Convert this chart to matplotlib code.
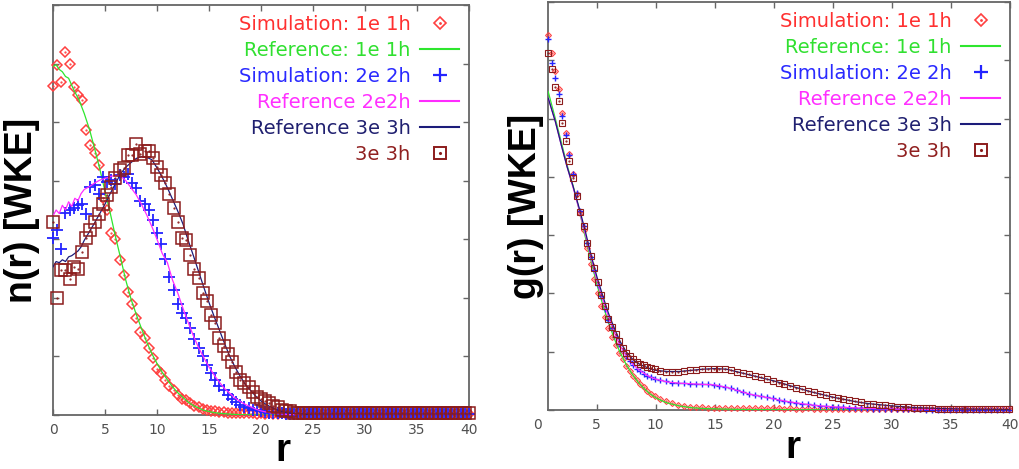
import numpy as np
import matplotlib
matplotlib.use("Agg")
import matplotlib.pyplot as plt
from matplotlib.lines import Line2D


# ---------------- n(r) panel (left) ----------------
r_n = np.round(np.arange(0, 40.01, 0.4), 2)

n_sim_1e = [5.62, 5.98, 5.69, 6.19, 6.0, 5.6, 5.46, 5.38, 4.86, 4.61,
            4.47, 4.27, 3.7, 3.5, 3.1, 3.0, 2.65, 2.39, 2.1, 1.9,
            1.65, 1.42, 1.31, 1.14, 0.97, 0.78, 0.72, 0.6, 0.5, 0.42,
            0.35, 0.28, 0.26, 0.2, 0.16, 0.13, 0.1, 0.08, 0.07, 0.06,
            0.05, 0.05, 0.04, 0.04, 0.03, 0.04, 0.03, 0.03, 0.03, 0.02,
            0.03,
            0.02, 0.03, 0.02, 0.02, 0.03, 0.02, 0.02, 0.02, 0.03, 0.02,
            0.02, 0.02, 0.03, 0.02, 0.02, 0.02, 0.02, 0.03, 0.02, 0.02,
            0.02, 0.02, 0.02, 0.03, 0.02, 0.02, 0.02, 0.02, 0.02, 0.02,
            0.03, 0.02, 0.02, 0.02, 0.02, 0.02, 0.02, 0.03, 0.02, 0.02,
            0.02, 0.02, 0.02, 0.02, 0.02, 0.02, 0.03, 0.02, 0.02, 0.02]

n_sim_2e = [3.02, 3.16, 2.83, 3.45, 3.5, 3.53, 3.59, 3.61, 3.44, 3.9,
            3.92, 3.78, 4.07, 3.98, 4.01, 3.95, 4.1, 4.07, 4.12, 3.96,
            3.87, 3.66, 3.6, 3.5, 3.33, 3.1, 2.92, 2.67, 2.36, 2.13,
            1.9, 1.74, 1.66, 1.49, 1.3, 1.15, 1.0, 0.85, 0.72, 0.6,
            0.5, 0.42, 0.35, 0.28, 0.22, 0.17, 0.14, 0.12, 0.09, 0.08,
            0.07, 0.05, 0.04, 0.04, 0.03, 0.03,
            0.02, 0.02, 0.02, 0.02, 0.02, 0.02, 0.02, 0.02, 0.02, 0.02,
            0.02, 0.02, 0.02, 0.02, 0.02, 0.02, 0.02, 0.02, 0.02, 0.02,
            0.02, 0.02, 0.02, 0.02, 0.02, 0.02, 0.02, 0.02, 0.02, 0.02,
            0.02, 0.02, 0.02, 0.02, 0.02, 0.02, 0.02, 0.02, 0.02, 0.02,
            0.02, 0.02, 0.02, 0.02, 0.02]

n_sim_3e = [3.3, 2.0, 2.47, 2.48, 2.32, 2.53, 2.5, 2.79, 3.02, 3.16,
            3.3, 3.44, 3.6, 3.76, 3.9, 4.05, 4.18, 4.21, 4.44, 4.44,
            4.63, 4.46, 4.5, 4.5, 4.39, 4.24, 4.1, 3.96, 3.78, 3.53,
            3.3, 3.02, 2.99, 2.73, 2.5, 2.34, 2.08, 1.94, 1.71, 1.57,
            1.31, 1.17, 1.05, 0.91, 0.74, 0.6, 0.54, 0.47, 0.4, 0.31,
            0.27, 0.24, 0.2, 0.16, 0.13, 0.09, 0.07, 0.06, 0.04, 0.03,
            0.03,
            0.03, 0.03, 0.03, 0.03, 0.03, 0.03, 0.03, 0.03, 0.03, 0.03,
            0.03, 0.03, 0.03, 0.03, 0.03, 0.03, 0.03, 0.03, 0.03, 0.03,
            0.03, 0.03, 0.03, 0.03, 0.03, 0.03, 0.03, 0.03, 0.03, 0.03,
            0.03, 0.03, 0.03, 0.03, 0.03, 0.03, 0.03, 0.03, 0.03, 0.03]

r_n_ref1 = [0, 0.3, 0.6, 0.9, 1.2, 1.5, 2.0, 2.5, 3.0, 3.5, 4.0, 4.5, 5.0,
            5.5, 6.0, 6.5, 7.0, 7.5, 8.0, 8.5, 9.0, 9.5, 10.0, 10.5, 11.0,
            11.5, 12.0, 12.5, 13.0, 13.5, 14.0, 14.5, 15.0, 15.5, 16.0,
            17, 18, 20, 25, 30, 40]
n_ref_1e = [5.95, 5.98, 5.9, 5.86, 5.78, 5.75, 5.55, 5.38, 5.15, 4.88, 4.55,
            4.2, 3.82, 3.45, 3.05, 2.68, 2.3, 1.98, 1.72, 1.48, 1.25, 1.05,
            0.88, 0.73, 0.6, 0.48, 0.38, 0.3, 0.22, 0.16, 0.12, 0.08, 0.06,
            0.04, 0.03, 0.015, 0.005, 0.0, 0.0, 0.0, 0.0]

r_n_ref23 = [0, 0.3, 0.6, 0.9, 1.2, 1.5, 1.8, 2.1, 2.4, 2.7,
             3.0, 3.5, 4.0, 4.5, 5.0, 5.5, 6.0, 6.5, 7.0, 7.5, 8.0, 8.5,
             9.0, 9.5, 10.0, 10.5, 11.0, 11.5, 12.0, 12.5, 13.0, 13.5,
             14.0, 14.5, 15.0, 15.5, 16.0, 16.5, 17.0, 17.5, 18.0, 18.5,
             19.0, 19.5, 20.0, 20.5, 21.0, 21.5, 22.0, 22.5, 23.0,
             25, 30, 40]
n_ref_2e = [3.4, 3.5, 3.44, 3.58, 3.5, 3.64, 3.56, 3.7, 3.66, 3.78,
            3.85, 3.9, 3.96, 4.01, 4.04, 4.07, 4.09, 4.08, 4.0, 3.88, 3.76,
            3.6, 3.42, 3.22, 3.0, 2.76, 2.6, 2.3, 2.08, 1.82, 1.58, 1.35,
            1.15, 0.98, 0.82, 0.68, 0.56, 0.45, 0.37, 0.29, 0.23, 0.18,
            0.14, 0.1, 0.07, 0.05, 0.035, 0.025, 0.02, 0.01, 0.005,
            0.0, 0.0, 0.0]
n_ref_3e = [2.53, 2.62, 2.6, 2.65, 2.62, 2.7, 2.72, 2.76, 2.8, 2.87,
            2.98, 3.13, 3.28, 3.44, 3.6, 3.78, 3.95, 4.12, 4.23, 4.31, 4.38,
            4.41, 4.4, 4.36, 4.22, 4.06, 3.88, 3.68, 3.48, 3.26, 2.98, 2.72,
            2.45, 2.18, 1.92, 1.68, 1.45, 1.22, 1.0, 0.82, 0.66, 0.52,
            0.42, 0.32, 0.24, 0.18, 0.13, 0.09, 0.06, 0.04, 0.03,
            0.0, 0.0, 0.0]

# ---------------- g(r) panel (right) ----------------
r_g = np.round(np.concatenate([np.arange(0.9, 9.95, 0.3),
                               np.arange(10.4, 39.95, 0.5)]), 2)

g_sim_1e = [6.43, 6.13, 5.82, 5.5, 5.1, 4.75, 4.4, 4.05, 3.7, 3.38,
            3.08, 2.78, 2.5, 2.25, 2.0, 1.78, 1.6, 1.4, 1.25, 1.12,
            0.98, 0.87, 0.76, 0.67, 0.58, 0.51, 0.45, 0.39, 0.33, 0.28,
            0.24,
            0.19, 0.15, 0.12, 0.09, 0.07, 0.06, 0.05, 0.045, 0.04, 0.04,
            0.035, 0.04, 0.035, 0.03, 0.035, 0.03, 0.03, 0.035, 0.03, 0.03,
            0.03, 0.025, 0.03, 0.025, 0.025, 0.03, 0.025, 0.025, 0.02, 0.025,
            0.025, 0.02, 0.025, 0.02, 0.02, 0.025, 0.02, 0.02, 0.02, 0.02,
            0.02, 0.015, 0.02, 0.02, 0.015, 0.02, 0.015, 0.02, 0.015, 0.015,
            0.015, 0.015, 0.02, 0.015, 0.015, 0.015, 0.01, 0.015, 0.015, 0.01]

g_sim_2e = [6.37, 5.95, 5.7, 5.42, 5.05, 4.72, 4.38, 4.05, 3.72, 3.42,
            3.15, 2.86, 2.62, 2.4, 2.15, 1.95, 1.74, 1.55, 1.4, 1.26,
            1.13, 1.02, 0.92, 0.84, 0.77, 0.71, 0.67, 0.62, 0.59, 0.56,
            0.53,
            0.51, 0.49, 0.47, 0.46, 0.46, 0.45, 0.45, 0.44, 0.44, 0.43,
            0.42, 0.4, 0.37, 0.34, 0.31, 0.28, 0.26, 0.24, 0.22, 0.2,
            0.18, 0.16, 0.14, 0.12, 0.11, 0.1, 0.085, 0.075, 0.065, 0.055,
            0.05, 0.045, 0.04, 0.035, 0.03, 0.027, 0.024, 0.02, 0.018, 0.016,
            0.014, 0.012, 0.011, 0.01, 0.009, 0.008, 0.008, 0.007, 0.007, 0.006,
            0.006, 0.005, 0.005, 0.005, 0.004, 0.004, 0.004, 0.003, 0.003, 0.003]

g_sim_3e = [6.12, 5.85, 5.55, 5.3, 4.93, 4.62, 4.28, 3.98, 3.67, 3.4,
            3.15, 2.86, 2.64, 2.43, 2.2, 1.97, 1.78, 1.56, 1.42, 1.3,
            1.18, 1.07, 0.98, 0.92, 0.88, 0.83, 0.79, 0.77, 0.74, 0.72,
            0.7,
            0.67, 0.66, 0.66, 0.66, 0.67, 0.68, 0.69, 0.7, 0.7, 0.71,
            0.71, 0.7, 0.68, 0.66, 0.64, 0.61, 0.59, 0.56, 0.53, 0.5,
            0.47, 0.44, 0.41, 0.38, 0.36, 0.33, 0.31, 0.28, 0.26, 0.23,
            0.21, 0.19, 0.17, 0.15, 0.13, 0.11, 0.1, 0.09, 0.08, 0.07,
            0.06, 0.05, 0.045, 0.04, 0.035, 0.03, 0.028, 0.025, 0.022, 0.02,
            0.018, 0.016, 0.015, 0.014, 0.013, 0.012, 0.011, 0.01, 0.01, 0.01]

r_g_ref1 = [0.9, 1.5, 2.0, 2.5, 3.0, 3.5, 4.0, 4.5, 5.0, 5.5, 6.0, 6.5,
            7.0, 7.5, 8.0, 8.5, 9.0, 9.5, 10, 10.5, 11, 12, 13, 14, 15,
            17, 20, 25, 30, 40]
g_ref_1e = [5.46, 5.0, 4.6, 4.2, 3.85, 3.45, 3.0, 2.58, 2.17, 1.82, 1.5,
            1.22, 0.98, 0.78, 0.62, 0.48, 0.37, 0.28, 0.21, 0.16, 0.12,
            0.07, 0.04, 0.025, 0.02, 0.01, 0.005, 0.003, 0.0, 0.0]

r_g_ref23 = [0.9, 1.5, 2.0, 2.5, 3.0, 3.5, 4.0, 4.5, 5.0, 5.5, 6.0, 6.5,
             7.0, 7.5, 8.0, 8.5, 9.0, 9.5, 10, 11, 12, 13, 14, 15, 16, 17,
             18, 19, 20, 21, 22, 23, 24, 25, 26, 27, 28, 29, 30, 32, 35, 40]
g_ref_2e = [5.35, 4.95, 4.55, 4.17, 3.82, 3.45, 3.05, 2.64, 2.24, 1.9,
            1.6, 1.33, 1.1, 0.93, 0.8, 0.7, 0.63, 0.57, 0.53, 0.48, 0.46,
            0.45, 0.44, 0.43, 0.39, 0.33, 0.27, 0.23, 0.19, 0.15, 0.12,
            0.09, 0.07, 0.055, 0.045, 0.035, 0.027, 0.02, 0.016, 0.01,
            0.006, 0.003]
g_ref_3e = [5.35, 4.95, 4.55, 4.17, 3.84, 3.48, 3.1, 2.68, 2.3, 1.97,
            1.66, 1.4, 1.17, 1.0, 0.88, 0.8, 0.75, 0.71, 0.68, 0.66, 0.66,
            0.68, 0.7, 0.71, 0.7, 0.65, 0.6, 0.55, 0.5, 0.44, 0.38, 0.32,
            0.27, 0.22, 0.18, 0.14, 0.11, 0.09, 0.07, 0.04, 0.02, 0.008]

labels = ["Simulation: 1e 1h", "Reference: 1e 1h", "Simulation: 2e 2h",
          "Reference 2e2h", "Reference 3e 3h", "3e 3h"]
x_ticks = [0, 5, 10, 15, 20, 25, 30, 35, 40]

RED = "#ff4040"
GREEN = "#2ee62e"
BLUE = "#2424ff"
MAGENTA = "#ff2bff"
NAVY = "#1c1c7a"
BROWN = "#8c1c1c"
TEXT_COLORS = ["#ff3030", "#30e030", "#2a2aff", "#ff30ff", "#202070", "#902020"]
LABEL_FONT = "Liberation Sans"


def draw(ax, r_sim, sim1, sim2, sim3, r1, ref1, r23, ref2, ref3, msz, mew):
    ax.plot(r_sim, sim1, ls="none", marker="D", ms=msz[0], mfc="none",
            mec=RED, mew=mew, clip_on=False, zorder=3)
    ax.plot(r_sim, sim1, ls="none", marker=".", ms=1.2, color=RED,
            clip_on=False, zorder=3)
    ax.plot(r1, ref1, color=GREEN, lw=0.9, zorder=4)
    ax.plot(r_sim, sim2, ls="none", marker="+", ms=msz[1], mec=BLUE,
            mew=mew + 0.2, clip_on=False, zorder=5)
    ax.plot(r23, ref2, color=MAGENTA, lw=0.9, zorder=6)
    ax.plot(r23, ref3, color=NAVY, lw=0.9, zorder=6)
    ax.plot(r_sim, sim3, ls="none", marker="s", ms=msz[2], mfc="none",
            mec=BROWN, mew=mew, clip_on=False, zorder=7)
    ax.plot(r_sim, sim3, ls="none", marker=".", ms=1.2, color=BROWN,
            clip_on=False, zorder=7)

    ax.set_ylim(0, 7)
    ax.set_yticks(range(8))
    ax.set_yticklabels([])
    ax.set_xticks(x_ticks)
    ax.tick_params(direction="in", top=True, right=True, length=4,
                   width=1, color="#666666", labelcolor="#505050",
                   labelsize=10, pad=6)
    for s in ax.spines.values():
        s.set_color("#666666")
        s.set_linewidth(1.3)

    # legend proxies, markers drawn to the right of the text
    handles = [
        (Line2D([], [], ls="none", marker="D", ms=6.5, mfc="none", mec=RED, mew=1.2),
         Line2D([], [], ls="none", marker=".", ms=2, color=RED)),
        Line2D([], [], color=GREEN, lw=1.5),
        Line2D([], [], ls="none", marker="+", ms=10, mec=BLUE, mew=1.6),
        Line2D([], [], color=MAGENTA, lw=1.5),
        Line2D([], [], color=NAVY, lw=1.5),
        (Line2D([], [], ls="none", marker="s", ms=9, mfc="none", mec=BROWN, mew=1.4),
         Line2D([], [], ls="none", marker=".", ms=2.5, color=BROWN)),
    ]
    leg = ax.legend(handles, labels, loc="upper right", markerfirst=False,
                    frameon=False, fontsize=14, handlelength=2.0,
                    handletextpad=0.5, labelspacing=0.36, borderaxespad=0.1,
                    numpoints=1)
    for t, c in zip(leg.get_texts(), TEXT_COLORS):
        t.set_color(c)


fig = plt.figure(figsize=(10.2, 4.69), dpi=100)
ax1 = fig.add_axes([53 / 1020, 54 / 469, 416 / 1020, 410 / 469])
ax2 = fig.add_axes([548 / 1020, 59 / 469, 462 / 1020, 408 / 469])

draw(ax1, r_n, n_sim_1e, n_sim_2e, n_sim_3e, r_n_ref1, n_ref_1e,
     r_n_ref23, n_ref_2e, n_ref_3e, (5.2, 9, 9), 1.1)
ax1.set_xlim(0, 40)

draw(ax2, r_g, g_sim_1e, g_sim_2e, g_sim_3e, r_g_ref1, g_ref_1e,
     r_g_ref23, g_ref_2e, g_ref_3e, (3.0, 5, 4.3), 0.8)
ax2.set_xlim(0.88, 40)
# the 0 label sits just left of the box in the original
ax2.text(0, -0.02, "0", transform=ax2.get_xaxis_transform(), ha="center",
         va="top", fontsize=10, color="#505050")

for ax, name, ycoord, xcoord, xl_y in [(ax1, "n(r) [WKE]", -0.075, 0.553, -0.112),
                                       (ax2, "g(r) [WKE]", -0.047, 0.53, -0.117)]:
    ax.set_ylabel(name, fontsize=27, fontweight="bold", family=LABEL_FONT,
                  va="center", ha="center")
    ax.yaxis.set_label_coords(ycoord, 0.5)
    ax.set_xlabel("r", fontsize=28, fontweight="bold", family=LABEL_FONT,
                  va="baseline")
    ax.xaxis.set_label_coords(xcoord, xl_y)

fig.savefig("out.png", dpi=100)
